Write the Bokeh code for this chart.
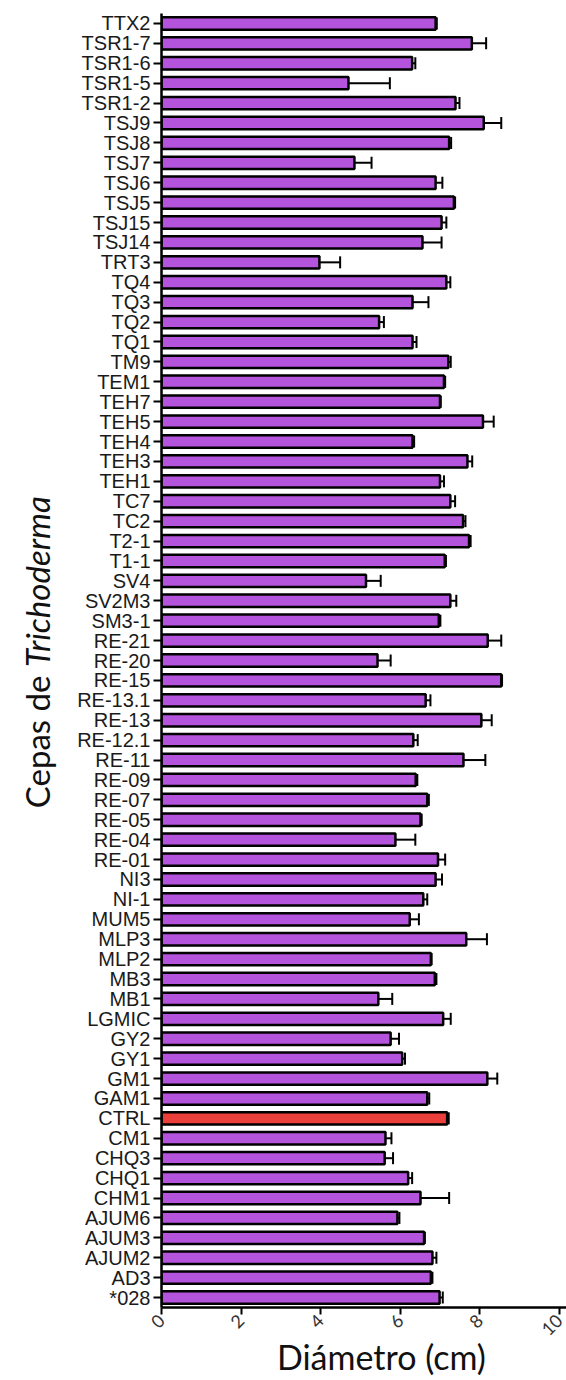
import math

from bokeh.core.properties import value
from bokeh.embed import file_html
from bokeh.layouts import row
from bokeh.models import (ColumnDataSource, FactorRange, FixedTicker, Range1d,
                          TeeHead, Whisker)
from bokeh.plotting import figure
from bokeh.resources import INLINE

# Trichoderma strains, listed top to bottom
strains = [
    "TTX2", "TSR1-7", "TSR1-6", "TSR1-5", "TSR1-2", "TSJ9", "TSJ8", "TSJ7",
    "TSJ6", "TSJ5", "TSJ15", "TSJ14", "TRT3", "TQ4", "TQ3", "TQ2", "TQ1",
    "TM9", "TEM1", "TEH7", "TEH5", "TEH4", "TEH3", "TEH1", "TC7", "TC2",
    "T2-1", "T1-1", "SV4", "SV2M3", "SM3-1", "RE-21", "RE-20", "RE-15",
    "RE-13.1", "RE-13", "RE-12.1", "RE-11", "RE-09", "RE-07", "RE-05",
    "RE-04", "RE-01", "NI3", "NI-1", "MUM5", "MLP3", "MLP2", "MB3", "MB1",
    "LGMIC", "GY2", "GY1", "GM1", "GAM1", "CTRL", "CM1", "CHQ3", "CHQ1",
    "CHM1", "AJUM6", "AJUM3", "AJUM2", "AD3", "*028",
]

# mean colony diameter (cm)
diameter = [
    6.89, 7.80, 6.30, 4.70, 7.39, 8.10, 7.23, 4.85,
    6.89, 7.35, 7.04, 6.56, 3.97, 7.16, 6.31, 5.47, 6.31,
    7.21, 7.10, 7.00, 8.08, 6.31, 7.69, 7.00, 7.26, 7.58,
    7.73, 7.12, 5.14, 7.26, 6.97, 8.20, 5.43, 8.54,
    6.64, 8.04, 6.33, 7.59, 6.39, 6.68, 6.51,
    5.88, 6.95, 6.89, 6.58, 6.24, 7.66, 6.77, 6.87, 5.45,
    7.08, 5.76, 6.05, 8.19, 6.68, 7.18, 5.63, 5.61, 6.20,
    6.51, 5.93, 6.60, 6.81, 6.77, 6.99,
]

# standard error of the mean (cm)
sem = [
    0.03, 0.36, 0.08, 1.04, 0.10, 0.44, 0.05, 0.43,
    0.17, 0.03, 0.12, 0.48, 0.52, 0.10, 0.40, 0.12, 0.10,
    0.06, 0.03, 0.02, 0.27, 0.04, 0.12, 0.10, 0.12, 0.06,
    0.04, 0.03, 0.37, 0.15, 0.04, 0.34, 0.33, 0.02,
    0.12, 0.26, 0.11, 0.55, 0.04, 0.04, 0.03,
    0.50, 0.18, 0.16, 0.10, 0.23, 0.52, 0.02, 0.04, 0.35,
    0.19, 0.21, 0.07, 0.25, 0.05, 0.04, 0.15, 0.21, 0.10,
    0.72, 0.05, 0.02, 0.10, 0.04, 0.08,
]

x_ticks = [0, 2, 4, 6, 8, 10]

PURPLE = "#B453DB"
RED = "#EA3F3A"
TEXT = "#111111"

PAGE_W, PAGE_H = 566, 1380
TITLE_W = 60                  # left strip with the vertical title
MAIN_W = PAGE_W - TITLE_W

source = ColumnDataSource(dict(
    strain=strains,
    mean=diameter,
    upper=[m + e for m, e in zip(diameter, sem)],
    color=[RED if s == "CTRL" else PURPLE for s in strains],
))

p = figure(
    width=MAIN_W, height=PAGE_H,
    y_range=FactorRange(*reversed(strains), range_padding=0),
    x_range=Range1d(0, 10.18),
    output_backend="svg", toolbar_location=None, title_location=None,
    min_border_left=161 - TITLE_W, min_border_right=0,
    min_border_top=13, min_border_bottom=70,
)
p.outline_line_color = None
p.grid.visible = False
p.background_fill_color = "white"
p.border_fill_color = "white"

# error bars (right side only)
err = Whisker(
    source=source, base="strain", lower="mean", upper="upper",
    dimension="width", line_color="black", line_width=2,
    upper_head=TeeHead(size=12, line_color="black", line_width=2),
    lower_head=None, level="underlay",
)
p.add_layout(err)

p.hbar(y="strain", right="mean", left=0, height=0.62, source=source,
       fill_color="color", line_color="black", line_width=2.5)

# y axis
yax = p.yaxis[0]
yax.axis_line_width = 2.5
yax.axis_line_color = "black"
yax.major_tick_line_width = 2
yax.major_tick_in = 0
yax.major_tick_out = 8
yax.major_label_standoff = 3
yax.major_label_text_font = "Liberation Sans"
yax.major_label_text_font_size = "20px"
yax.major_label_text_color = "#1a1a1a"

# x axis
xax = p.xaxis[0]
xax.ticker = FixedTicker(ticks=x_ticks)
xax.axis_line_width = 2.5
xax.axis_line_color = "black"
xax.major_tick_line_width = 2
xax.major_tick_in = 0
xax.major_tick_out = 7
xax.minor_tick_line_color = None
xax.major_label_orientation = math.pi / 4
xax.major_label_text_font = "Lato"
xax.major_label_text_font_size = "18px"
xax.major_label_text_color = "#333333"
xax.major_label_standoff = 3
# leading no-break spaces nudge the centred title slightly to the right
xax.axis_label = "\u00a0\u00a0\u00a0\u00a0Diámetro (cm)"
xax.axis_label_text_font = "Lato"
xax.axis_label_text_font_style = "normal"
xax.axis_label_text_font_size = "34px"
xax.axis_label_text_color = TEXT
xax.axis_label_standoff = -8

# vertical title strip: "Cepas de" upright, genus in italics
t = figure(
    width=TITLE_W, height=PAGE_H,
    x_range=Range1d(0, TITLE_W), y_range=Range1d(0, PAGE_H),
    x_axis_location=None, y_axis_location=None,
    output_backend="svg", toolbar_location=None, title_location=None,
    min_border=0, outline_line_color=None,
)
t.grid.visible = False
t.text(x=[36], y=[PAGE_H - 706], text=["Cepas de"], angle=math.pi / 2,
       text_align="right", text_baseline="alphabetic",
       text_font=value("Lato"), text_font_size="33px", text_color=TEXT)
t.text(x=[36], y=[PAGE_H - 697], text=["Trichoderma"], angle=math.pi / 2,
       text_align="left", text_baseline="alphabetic",
       text_font=value("Lato"), text_font_style="italic",
       text_font_size="33px", text_color=TEXT)

layout = row(t, p, spacing=0)
open("out.html", "w").write(file_html(layout, INLINE))
